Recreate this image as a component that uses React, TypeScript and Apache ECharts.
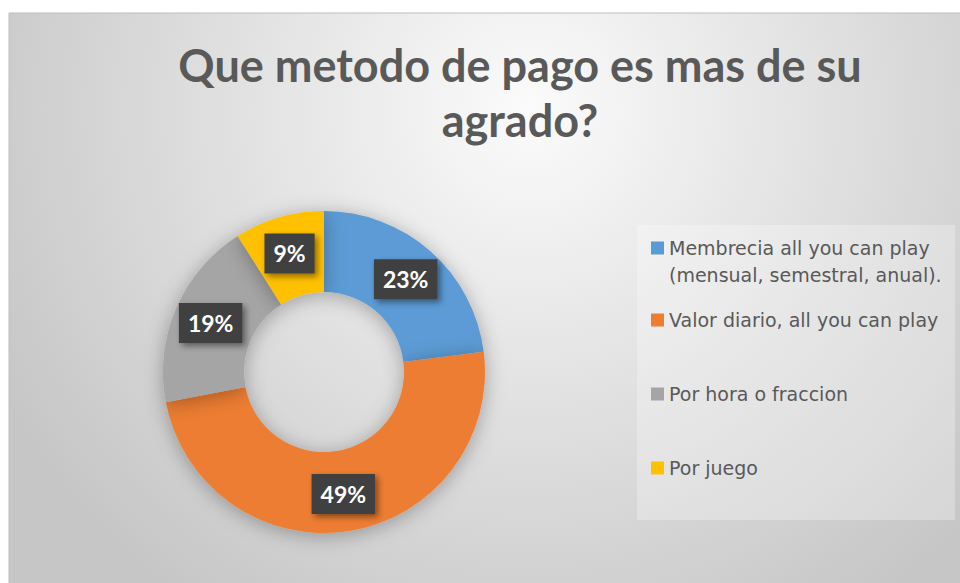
import React, { useEffect, useRef } from "react";
import * as echarts from "echarts";

const titleText = "Que metodo de pago es mas de su\nagrado?";
const categories = [
  "Membrecia all you can play\n(mensual, semestral, anual).",
  "Valor diario, all you can play",
  "Por hora o fraccion",
  "Por juego",
];
const values = [23, 49, 19, 9];
const colors = ["#5b9bd5", "#ed7d31", "#a5a5a5", "#ffc000"];

export default function App() {
  const ref = useRef<HTMLDivElement>(null);
  useEffect(() => {
    if (!ref.current) return;
    const chart = echarts.init(ref.current, null, { renderer: "svg" });
    const font = "Lato, 'Open Sans', sans-serif";
    const legendFont = "'DejaVu Sans', sans-serif";
    const legendTops = [234.5, 306.5, 380.5, 454.5];
    const legends = categories.map((name, i) => ({
      show: true,
      left: 651,
      top: legendTops[i],
      padding: 0,
      orient: "vertical",
      selectedMode: false,
      data: [name],
      itemWidth: 13,
      itemHeight: i === 0 ? 40 : 13,
      icon: i === 0 ? "path://M0,0L13,0L13,13L0,13ZM0,40L13,40" : "rect",
      itemStyle: { borderWidth: 0 },
      textStyle: {
        fontFamily: legendFont,
        fontSize: 19,
        color: "#595959",
        lineHeight: 27,
      },
    }));
    chart.setOption({
      animation: false,
      graphic: [
        {
          type: "rect",
          z: -10,
          silent: true,
          shape: { x: 9, y: 13, width: 960, height: 580 },
          style: {
            fill: {
              type: "radial",
              x: 530,
              y: 110,
              r: 600,
              global: true,
              colorStops: [
                { offset: 0, color: "#fbfbfb" },
                { offset: 1, color: "#c6c6c6" },
              ],
            },
            stroke: "#bdbdbd",
            lineWidth: 1,
          },
        },
        {
          type: "rect",
          z: -5,
          silent: true,
          shape: { x: 637, y: 225, width: 318, height: 295 },
          style: { fill: "rgba(255,255,255,0.28)" },
        },
      ],
      title: {
        text: titleText,
        left: 515,
        top: 32,
        textAlign: "center",
        textStyle: {
          fontFamily: font,
          fontSize: 45,
          fontWeight: "bold",
          color: "#595959",
          lineHeight: 55,
        },
      },
      legend: legends,
      series: [
        {
          type: "pie",
          center: [324, 372],
          radius: [80, 161],
          startAngle: 90,
          clockwise: true,
          percentPrecision: 0,
          avoidLabelOverlap: false,
          emphasis: { disabled: true },
          itemStyle: {
            borderWidth: 0,
            shadowBlur: 20,
            shadowOffsetY: 3,
            shadowColor: "rgba(0,0,0,0.3)",
          },
          label: {
            show: true,
            position: "inside",
            formatter: "{d}%",
            fontFamily: font,
            fontSize: 23,
            fontWeight: "bold",
            color: "#ffffff",
            lineHeight: 24,
            backgroundColor: "#404040",
            padding: [8, 9],
            shadowBlur: 6,
            shadowOffsetX: 3,
            shadowOffsetY: 3,
            shadowColor: "rgba(0,0,0,0.45)",
          },
          labelLine: { show: false },
          data: categories.map((name, i) => ({
            name,
            value: values[i],
            itemStyle: { color: colors[i] },
          })),
        },
      ],
    });
    return () => chart.dispose();
  }, []);
  return (
    <div
      ref={ref}
      style={{ position: "absolute", left: 0, top: 0, width: 960, height: 583 }}
    />
  );
}
